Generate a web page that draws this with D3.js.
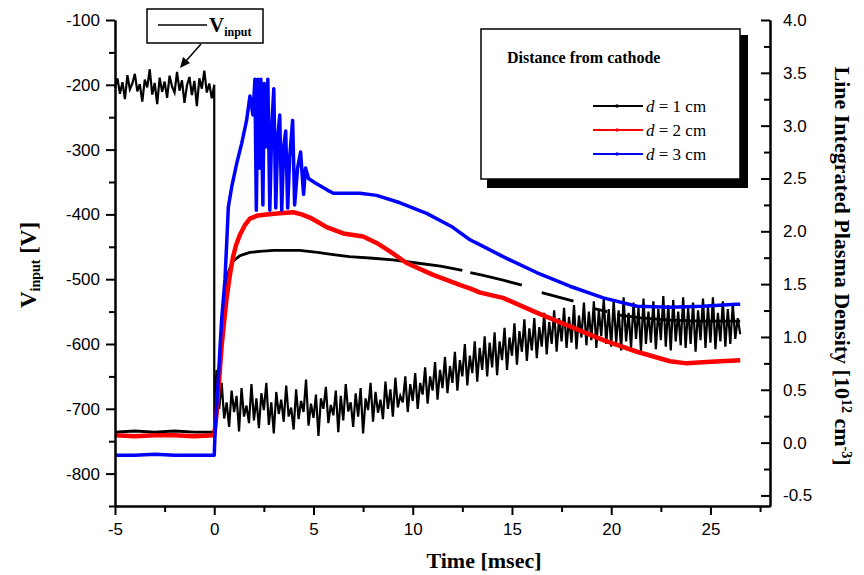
<!DOCTYPE html>
<html lang="en">
<head>
<meta charset="UTF-8">
<script src="https://d3js.org/d3.v7.min.js"></script>
<style>
  body { margin: 0; background: #fff; }
  .tick text { font-family: "Liberation Sans", Arial, sans-serif; font-size: 17px; fill: #000; }
  .tick line { stroke: #000; stroke-width: 2px; }
  .domain { stroke: #000; stroke-width: 2px; }
  .title { font-family: "Liberation Serif", "Times New Roman", serif; font-weight: bold; fill: #000; }
  .leg { font-family: "Liberation Serif", "Times New Roman", serif; fill: #000; }
</style>
</head>
<body>
<svg id="chart" width="864" height="575"></svg>
<script>
// time axis ticks (msec)
var timeTicks = [-5, 0, 5, 10, 15, 20, 25];
var timeMinor = [-2.5, 2.5, 7.5, 12.5, 17.5, 22.5, 27.5];
var voltTicks = [-800, -700, -600, -500, -400, -300, -200, -100];
var voltMinor = [-850, -750, -650, -550, -450, -350, -250, -150];
var densTicks = [-0.5, 0, 0.5, 1, 1.5, 2, 2.5, 3, 3.5, 4];
var densMinor = [-0.25, 0.25, 0.75, 1.25, 1.75, 2.25, 2.75, 3.25, 3.75];

var vStep = 0.125;
var vBefore = [-205,-190,-214,-196,-222,-185,-207,-198,-183,-210,
  -199,-226,-192,-204,-176,-215,-197,-230,-189,-211,
  -195,-220,-186,-203,-212,-180,-209,-193,-228,-201,
  -188,-216,-194,-233,-190,-206,-178,-212,-198,-221,-200];
var vAfter = [
  -740,-640,-700,-660,-715,-690,-728,-672,-705,-680,-735,-668,-712,-695,-722,-662,
  -718,-684,-730,-676,-702,-660,-725,-690,-738,-674,-708,-686,-720,-664,-712,-698,
  -732,-670,-716,-688,-705,-655,-726,-692,-714,-678,-742,-684,-700,-666,-722,-694,
  -710,-672,-736,-680,-718,-662,-704,-690,-728,-676,-712,-668,-738,-684,-702,-660,
  -720,-674,-706,-686,-716,-658,-700,-670,-712,-652,-698,-680,-690,-650,-705,-662,
  -688,-645,-700,-660,-678,-636,-692,-650,-672,-628,-686,-640,-668,-620,-676,-634,
  -660,-612,-672,-625,-650,-600,-664,-618,-645,-596,-658,-606,-640,-588,-650,-598,
  -636,-582,-648,-596,-625,-575,-640,-590,-618,-568,-632,-580,-612,-562,-626,-576,
  -610,-560,-622,-574,-604,-552,-616,-566,-600,-548,-612,-560,-596,-544,-606,-558,
  -598,-540,-608,-556,-590,-536,-602,-550,-594,-534,-606,-548,-588,-530,-600,-546,
  -604,-532,-598,-548,-610,-528,-596,-552,-606,-536,-592,-544,-612,-530,-600,-550,
  -598,-534,-608,-546,-594,-526,-604,-540,-610,-532,-596,-550,-602,-528,-606,-544,
  -600,-536,-612,-548,-594,-530,-606,-542,-598,-528,-608,-552,-596,-534,-604,-546,
  -600,-538,-592,-560,-585];

// line integrated density [1e12 cm^-3], [time, value]; null = gap in trace
var dens1 = [[-5,0.1],[-4,0.11],[-3,0.1],[-2,0.11],[-1,0.1],[0,0.1],[0.1,0.3],[0.25,0.7],[0.4,1.1],[0.55,1.4],
  [0.7,1.6],[0.9,1.71],[1.3,1.77],[1.8,1.8],[2.3,1.81],[3.0,1.82],[3.5,1.82],[4.3,1.82],[5.2,1.8],[6.0,1.78],
  [6.8,1.76],[8.0,1.745],[9.0,1.73],[10.2,1.7],[11.4,1.67],[12.5,1.63],null,[12.9,1.61],[13.5,1.585],[14.5,1.54],
  [15.5,1.49],null,[16.5,1.42],[17.3,1.38],[18.1,1.34],null,[19.1,1.27],[19.8,1.24],null,[20.3,1.21],[21.5,1.18],
  [23,1.16],[24.5,1.15],[26.5,1.15]];
var dens2 = [[-5,0.07],[-4,0.06],[-3,0.07],[-2,0.07],[-1,0.06],[0,0.07],[0.12,0.28],[0.25,0.6],[0.37,0.91],[0.5,1.15],
  [0.63,1.38],[0.8,1.6],[0.95,1.76],[1.1,1.87],[1.3,1.97],[1.55,2.06],[1.8,2.12],[2.2,2.15],[2.64,2.16],[3.3,2.17],
  [3.98,2.18],[4.4,2.16],[4.82,2.13],[5.2,2.09],[5.66,2.04],[6.5,1.98],[7.5,1.95],[8.18,1.89],[8.85,1.81],[9.69,1.7],
  [11.0,1.59],[12.4,1.49],[12.88,1.46],[13.4,1.42],[14.55,1.37],[16.24,1.23],[17.92,1.1],[19.6,0.97],[21.3,0.86],
  [22.96,0.77],[23.8,0.75],[24.6,0.76],[25.5,0.77],[26.5,0.78]];
var dens3 = [[-5,-0.12],[-4,-0.12],[-3,-0.11],[-2,-0.12],[-1,-0.12],[0,-0.12],[0.04,0.09],[0.2,0.59],[0.37,1.16],
  [0.54,1.54],[0.63,1.9],[0.71,2.23],[0.88,2.42],[1.13,2.64],[1.38,2.83],[1.63,3.05],[1.8,3.28],[1.95,3.1],
  [2.05,3.44],[2.12,2.2],[2.2,3.44],[2.28,2.6],[2.35,3.44],[2.45,2.25],[2.52,3.4],[2.6,2.8],[2.7,3.44],[2.8,2.2],
  [2.9,3.0],[3.0,3.35],[3.1,2.22],[3.2,2.9],[3.3,3.1],[3.4,2.2],[3.5,2.8],[3.6,2.95],[3.7,2.22],[3.8,2.7],
  [3.95,3.05],[4.05,2.25],[4.2,2.6],[4.35,2.75],[4.5,2.35],[4.6,2.6],[4.75,2.5],[5.07,2.46],[5.7,2.39],[6.0,2.36],
  [7.34,2.36],[8.18,2.34],[9.36,2.27],[10.7,2.17],[12.0,2.04],[12.88,1.92],[13.2,1.89],[14.55,1.76],[16.24,1.61],
  [17.92,1.48],[19.6,1.37],[21.3,1.29],[22.96,1.28],[24.6,1.29],[26.3,1.31],[26.5,1.31]];

var distLabels = ["1", "2", "3"];
var distColors = ["#000000", "#ff0000", "#0000ff"];

(function() {
var svg = d3.select("#chart");
var mLeft = 115, mRight = 770, mTop = 20, mBottom = 506;

var x = d3.scaleLinear().domain([-5, 28]).range([mLeft, mRight]);
var yV = d3.scaleLinear().domain([-850, -100]).range([mBottom, mTop]);
var yD = d3.scaleLinear().domain([-0.6, 4.0]).range([mBottom, mTop]);

// V_input points
var vData = vBefore.map(function(v, i) { return [-5 + i * vStep, v]; })
  .concat(vAfter.map(function(v, i) { return [i * vStep, v]; }));

var lineV = d3.line().x(function(d) { return x(d[0]); }).y(function(d) { return yV(d[1]); });
var lineD = d3.line().defined(function(d) { return d != null; })
  .x(function(d) { return x(d[0]); }).y(function(d) { return yD(d[1]); });

svg.append("path").datum(vData).attr("d", lineV)
  .attr("fill", "none").attr("stroke", "#000").attr("stroke-width", 2.2);

var widths = [2.8, 4.5, 3.5];
[dens1, dens2, dens3].forEach(function(s, i) {
  svg.append("path").datum(s).attr("d", lineD)
    .attr("fill", "none").attr("stroke", distColors[i]).attr("stroke-width", widths[i])
    .attr("stroke-linejoin", "round");
});

// axes
var fmt = function(d) { return String(d); };
svg.append("g").attr("transform", "translate(" + mLeft + ",0)")
  .call(d3.axisLeft(yV).tickValues(voltTicks).tickFormat(fmt).tickSize(9).tickSizeOuter(0).tickPadding(6));
svg.append("g").attr("transform", "translate(" + mLeft + ",0)")
  .call(d3.axisLeft(yV).tickValues(voltMinor).tickFormat("").tickSize(6).tickSizeOuter(0));

svg.append("g").attr("transform", "translate(0," + mBottom + ")")
  .call(d3.axisBottom(x).tickValues(timeTicks).tickFormat(fmt).tickSize(9).tickSizeOuter(0).tickPadding(8));
svg.append("g").attr("transform", "translate(0," + mBottom + ")")
  .call(d3.axisBottom(x).tickValues(timeMinor).tickFormat("").tickSize(6).tickSizeOuter(0));

svg.append("g").attr("transform", "translate(" + mRight + ",0)")
  .call(d3.axisRight(yD).tickValues(densTicks).tickFormat(function(d) { return d.toFixed(1); })
    .tickSizeInner(-9).tickSizeOuter(0).tickPadding(13));
svg.append("g").attr("transform", "translate(" + mRight + ",0)")
  .call(d3.axisRight(yD).tickValues(densMinor).tickFormat("").tickSizeInner(-6).tickSizeOuter(0));

// axis titles
svg.append("text").attr("class", "title").attr("x", 484).attr("y", 568)
  .attr("text-anchor", "middle").style("font-size", "22px").text("Time [msec]");

var lt = svg.append("text").attr("class", "title").style("font-size", "23px")
  .attr("transform", "translate(36,265) rotate(-90)").attr("text-anchor", "middle");
lt.append("tspan").text("V");
lt.append("tspan").attr("baseline-shift", "-30%").style("font-size", "14px").text("input");
lt.append("tspan").text(" [V]");

var rt = svg.append("text").attr("class", "title").style("font-size", "22px")
  .attr("transform", "translate(835,266) rotate(90)").attr("text-anchor", "middle");
rt.append("tspan").text("Line Integrated Plasma Density [10");
rt.append("tspan").attr("baseline-shift", "super").style("font-size", "14px").text("12");
rt.append("tspan").text(" cm");
rt.append("tspan").attr("baseline-shift", "super").style("font-size", "14px").text("-3");
rt.append("tspan").text("]");

// V_input legend box with arrow
svg.append("rect").attr("x", 147).attr("y", 9).attr("width", 116).attr("height", 34)
  .attr("fill", "#fff").attr("stroke", "#000").attr("stroke-width", 1.5);
svg.append("line").attr("x1", 158).attr("x2", 207).attr("y1", 25).attr("y2", 25)
  .attr("stroke", "#000").attr("stroke-width", 1.5);
var vl = svg.append("text").attr("class", "title").attr("x", 209).attr("y", 32).style("font-size", "21px");
vl.append("tspan").text("V");
vl.append("tspan").attr("baseline-shift", "-35%").style("font-size", "12px").text("input");

svg.append("line").attr("x1", 201).attr("y1", 44).attr("x2", 186).attr("y2", 61)
  .attr("stroke", "#000").attr("stroke-width", 1.5);
svg.append("path").attr("d", "M180,68 L183,57 L190,63 Z").attr("fill", "#000");

// distance legend
svg.append("rect").attr("x", 487).attr("y", 35).attr("width", 261).attr("height", 153).attr("fill", "#000");
svg.append("rect").attr("x", 481).attr("y", 29).attr("width", 259).attr("height", 150)
  .attr("fill", "#fff").attr("stroke", "#000").attr("stroke-width", 1.5);
svg.append("text").attr("class", "title").attr("x", 507).attr("y", 63).style("font-size", "16px")
  .text("Distance from cathode");

distLabels.forEach(function(lbl, i) {
  var ly = 106 + i * 24;
  svg.append("line").attr("x1", 593).attr("x2", 643).attr("y1", ly).attr("y2", ly)
    .attr("stroke", distColors[i]).attr("stroke-width", 2);
  svg.append("circle").attr("cx", 617).attr("cy", ly).attr("r", 1.8).attr("fill", distColors[i]);
  var t = svg.append("text").attr("class", "leg").attr("x", 646).attr("y", ly + 6).style("font-size", "17px");
  t.append("tspan").style("font-style", "italic").text("d");
  t.append("tspan").text(" = " + lbl + " cm");
});
})();
</script>
</body>
</html>
